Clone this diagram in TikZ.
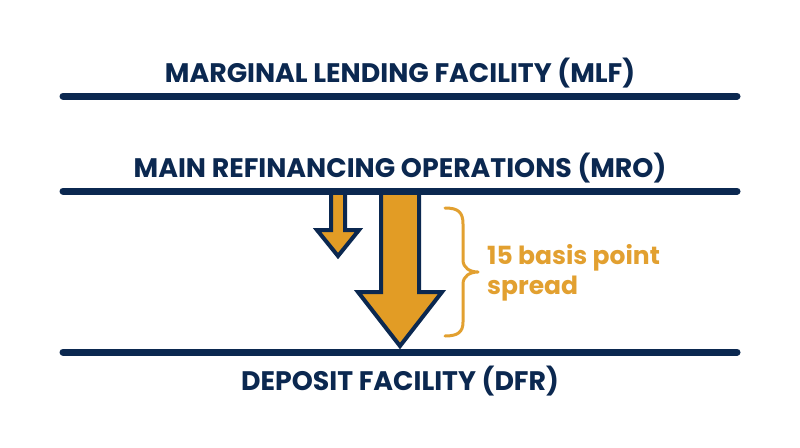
\documentclass[tikz,border=0pt]{standalone}
\usepackage{fontspec}
\setmainfont{Poppins}
\definecolor{navy}{HTML}{0B2850}
\definecolor{gold}{HTML}{E29C25}
\definecolor{bracec}{HTML}{E2A030}
\begin{document}
\begin{tikzpicture}[x=1pt,y=-1pt,
  rate/.style={draw=navy,line width=7pt,line cap=round},
  ratelabel/.style={text=navy,font=\fontsize{26.8}{30}\selectfont\bfseries,inner sep=0pt,anchor=center},
  arrowshape/.style={draw=navy,fill=gold,line width=4pt,line join=miter},
  spreadlabel/.style={text=bracec,font=\fontsize{25}{30}\selectfont\bfseries,inner sep=0pt,align=left,anchor=west}]
\useasboundingbox (0,0) rectangle (800,447);
\fill[white] (0,0) rectangle (800,447);
% arrows
\draw[arrowshape] (331,190) -- (345,190) -- (345,230) -- (359,230) -- (338,256) -- (317,230) -- (331,230) -- cycle;
\draw[arrowshape] (381,190) -- (419,190) -- (419,292) -- (442,292) -- (400,346) -- (358,292) -- (381,292) -- cycle;
% rate lines
\coordinate (mlfL) at (63,96); \coordinate (mlfR) at (737,96);
\coordinate (mroL) at (63,191); \coordinate (mroR) at (737,191);
\coordinate (dfrL) at (63,352); \coordinate (dfrR) at (737,352);
\draw[rate] (mlfL) -- (mlfR);
\draw[rate] (mroL) -- (mroR);
\draw[rate] (dfrL) -- (dfrR);
\node[ratelabel] (mlf) at (400,73) {MARGINAL LENDING FACILITY (MLF)};
\node[ratelabel] (mro) at (400,168) {MAIN REFINANCING OPERATIONS (MRO)};
\node[ratelabel] (dfr) at (400,381) {DEPOSIT FACILITY (DFR)};
% brace
\draw[bracec,line width=3pt,line cap=round,line join=round]
  (445,208) .. controls (458,208) and (463,212) .. (463,224) -- (463,260)
  .. controls (463,268) and (470,272) .. (478,272)
  .. controls (470,272) and (463,276) .. (463,284) -- (463,322)
  .. controls (463,332) and (458,336) .. (445,336);
\node[spreadlabel] (spread) at (487,273) {15 basis point\\spread};
\end{tikzpicture}
\end{document}
